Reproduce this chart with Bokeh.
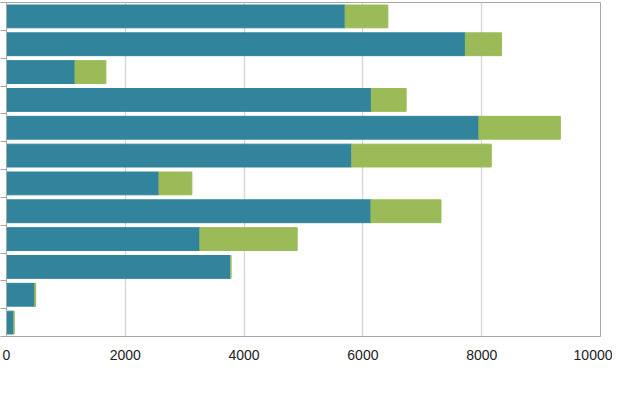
from bokeh.plotting import figure
from bokeh.models import Range1d, FixedTicker, ColumnDataSource
from bokeh.embed import file_html
from bokeh.resources import INLINE

categories = ["1", "2", "3", "4", "5", "6", "7", "8", "9", "10", "11", "12"]
presencial = [5700, 7725, 1153, 6141, 7953, 5812, 2567, 6136, 3255, 3775, 476, 124]
distancia = [720, 609, 520, 587, 1371, 2349, 554, 1179, 1639, 0, 15, 0]
series_names = ["Presencial", "Distancia"]
colors = ["#31849B", "#9BBB59"]
x_ticks = [0, 2000, 4000, 6000, 8000, 10000]

n = len(categories)
ypos = [n - i - 0.5 for i in range(n)]
src = ColumnDataSource(dict(y=ypos, Presencial=presencial, Distancia=distancia))

p = figure(frame_width=594, frame_height=334, output_backend="svg", toolbar_location=None,
           x_range=Range1d(0, 10000), y_range=Range1d(0, n),
           min_border_left=0, min_border_right=12, min_border_top=2, min_border_bottom=0)

p.hbar_stack(series_names, y="y", height=0.82, color=colors, source=src,
             legend_label=series_names)

p.outline_line_color = "#a6a6a6"

p.xaxis.ticker = FixedTicker(ticks=x_ticks)
p.xaxis.major_tick_line_color = None
p.xaxis.minor_tick_line_color = None
p.xaxis.axis_line_color = "#a6a6a6"
p.xaxis.major_label_standoff = 7
p.xaxis.major_label_text_font = "Liberation Sans"
p.xaxis.major_label_text_font_size = "14px"
p.xaxis.major_label_text_color = "#222222"

p.yaxis.ticker = FixedTicker(ticks=list(range(n + 1)))
p.yaxis.major_label_overrides = {i: "" for i in range(n + 1)}
p.yaxis.major_label_standoff = 0
p.yaxis.major_tick_out = 6
p.yaxis.major_tick_in = 0
p.yaxis.minor_tick_line_color = None
p.yaxis.axis_line_color = "#a6a6a6"
p.yaxis.major_tick_line_color = "#a6a6a6"

p.xgrid.grid_line_color = "#d9d9d9"
p.xgrid.grid_line_width = 1.5
p.ygrid.grid_line_color = None

lg = p.legend[0]
lg.orientation = "horizontal"
lg.location = "center"
lg.glyph_width = 8
lg.glyph_height = 8
lg.label_standoff = 3
lg.spacing = 104
lg.padding = 0
lg.margin = 0
lg.label_text_font = "Liberation Sans"
lg.label_text_font_size = "14px"
lg.label_text_color = "#222222"
lg.border_line_color = None
lg.background_fill_alpha = 0
p.add_layout(lg, "below")

open("out.html", "w").write(file_html(p, INLINE))
